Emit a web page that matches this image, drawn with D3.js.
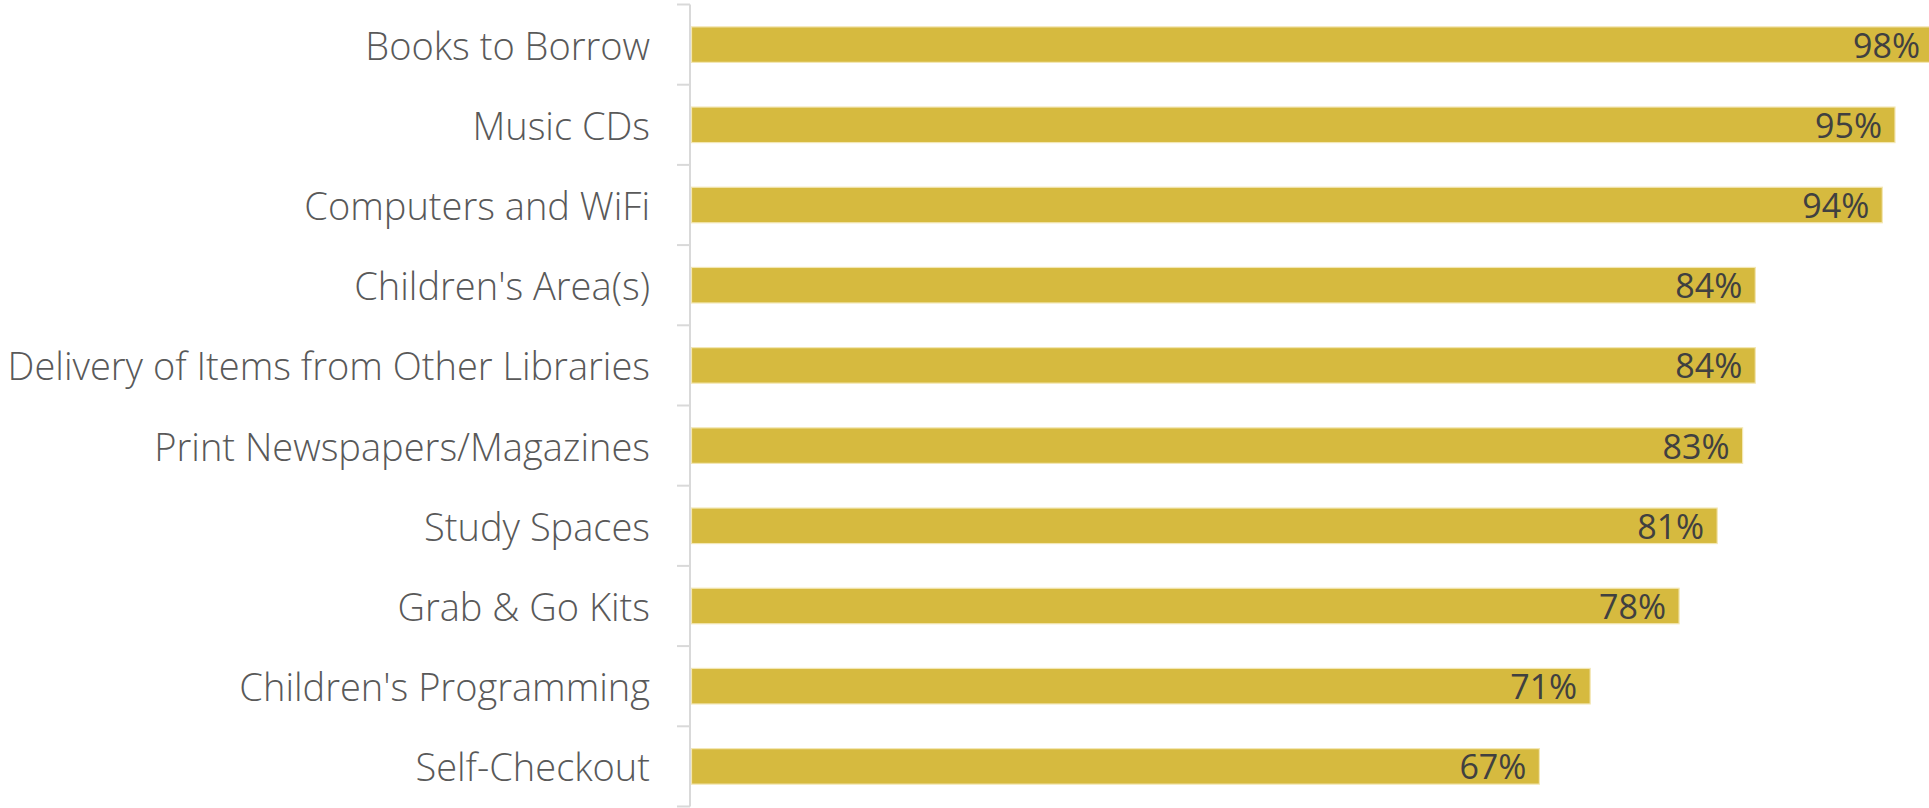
<!DOCTYPE html>
<html>
<head>
<meta charset="utf-8">
<script src="https://cdn.jsdelivr.net/npm/d3@7"></script>
<style>
  html, body { margin: 0; padding: 0; background: #fff; }
  svg { display: block; }
</style>
</head>
<body>
<svg id="chart" width="1929" height="808"></svg>
<script>
// Library services used, share of respondents (%)
const categories = [
  "Books to Borrow",
  "Music CDs",
  "Computers and WiFi",
  "Children's Area(s)",
  "Delivery of Items from Other Libraries",
  "Print Newspapers/Magazines",
  "Study Spaces",
  "Grab & Go Kits",
  "Children's Programming",
  "Self-Checkout"
];
const values = [98, 95, 94, 84, 84, 83, 81, 78, 71, 67];

const W = 1929, H = 808;
const svg = d3.select("#chart");

const x = d3.scaleLinear().domain([0, 100]).range([688.5, 1958.5]);
const y = d3.scaleBand()
  .domain(categories)
  .range([4.5, 806.5])
  .paddingInner(0.557)
  .paddingOuter(0.2786);

const axisX = 690;
const barGap = 3;

// bars
svg.append("g")
  .selectAll("rect")
  .data(values)
  .join("rect")
  .attr("x", x(0) + barGap)
  .attr("y", (d, i) => y(categories[i]))
  .attr("width", d => x(d) - x(0) - barGap)
  .attr("height", y.bandwidth())
  .attr("fill", "#D6BA3F")
  .attr("stroke", "#F3E7B4")
  .attr("stroke-width", 1.2);

// value labels inside bar ends
svg.append("g")
  .selectAll("text")
  .data(values)
  .join("text")
  .attr("x", d => x(d) - 13)
  .attr("y", (d, i) => y(categories[i]) + y.bandwidth() / 2)
  .attr("text-anchor", "end")
  .attr("dominant-baseline", "central")
  .attr("font-family", "'Open Sans', sans-serif")
  .attr("font-size", 34)
  .attr("fill", "#404040")
  .text(d => d + "%");

// category axis: line + ticks at band boundaries
const axisG = svg.append("g");
const [r0, r1] = y.range();
axisG.append("line")
  .attr("x1", axisX).attr("x2", axisX)
  .attr("y1", r0).attr("y2", r1)
  .attr("stroke", "#D9D9D9").attr("stroke-width", 2);
axisG.selectAll("line.tick")
  .data(d3.range(categories.length + 1))
  .join("line")
  .attr("class", "tick")
  .attr("x1", axisX - 13).attr("x2", axisX)
  .attr("y1", i => r0 + i * y.step())
  .attr("y2", i => r0 + i * y.step())
  .attr("stroke", "#D9D9D9").attr("stroke-width", 2);

// category labels
svg.append("g")
  .selectAll("text")
  .data(categories)
  .join("text")
  .attr("x", axisX - 40)
  .attr("y", d => y(d) + y.bandwidth() / 2)
  .attr("text-anchor", "end")
  .attr("dominant-baseline", "central")
  .attr("font-family", "'Open Sans', sans-serif")
  .attr("font-weight", 300)
  .attr("font-size", 38)
  .attr("fill", "#595959")
  .text(d => d);
</script>
</body>
</html>
